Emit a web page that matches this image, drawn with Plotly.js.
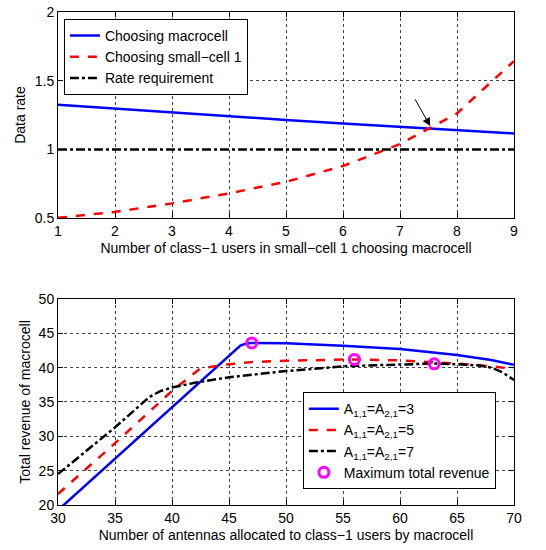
<!DOCTYPE html>
<html><head><meta charset="utf-8">
<script src="https://cdn.plot.ly/plotly-3.0.1.min.js"></script>
<style>body{margin:0;background:#fff}#c{width:546px;height:550px}</style>
</head><body><div id="c"></div>
<script>
// Top chart data
const users = [1, 2, 3, 4, 5, 6, 7, 8, 9];
const rateMacro = [1.325, 1.296, 1.268, 1.241, 1.214, 1.188, 1.163, 1.139, 1.116];
const rateSmall = [0.502, 0.545, 0.607, 0.680, 0.764, 0.879, 1.039, 1.262, 1.643];
const rateReq = [1, 1, 1, 1, 1, 1, 1, 1, 1];

// Bottom chart data
const antA3 = [30, 35, 40, 45, 46, 46.5, 47, 50, 55, 60, 65, 68, 70];
const revA3 = [19.25, 26.75, 34.25, 41.75, 43.2, 43.5, 43.6, 43.55, 43.2, 42.7, 41.85, 41.1, 40.4];
const antA5 = [30, 35, 40, 42.5, 45, 47, 50, 55, 56, 60, 63, 65, 68, 70];
const revA5 = [21.6, 29.0, 36.6, 39.9, 40.5, 40.8, 41.0, 41.2, 41.2, 41.05, 40.8, 40.6, 40.2, 39.8];
const antA7 = [30, 35, 38, 39, 40, 42, 45, 50, 55, 60, 63, 65, 67, 68, 69, 70];
const revA7 = [24.5, 31.3, 35.7, 36.6, 37.1, 37.8, 38.6, 39.5, 40.2, 40.5, 40.6, 40.5, 40.3, 40.0, 39.3, 38.2];
const maxAnt = [47, 56, 63];
const maxRev = [43.6, 41.2, 40.55];

const font = {family: 'Liberation Sans, Arial, sans-serif', size: 14, color: '#000'};
const axBase = {
  showline: true, linecolor: '#000', linewidth: 1, mirror: 'ticks',
  ticks: 'inside', ticklen: 5, tickcolor: '#000',
  showgrid: true, gridcolor: '#444', griddash: 'dot', gridwidth: 1,
  zeroline: false, tickfont: font
};

const traces = [
  {x: users, y: rateMacro, mode: 'lines', name: 'Choosing macrocell',
   line: {color: '#0000ff', width: 2.5}, xaxis: 'x', yaxis: 'y', legend: 'legend'},
  {x: users, y: rateSmall, mode: 'lines', name: 'Choosing small−cell 1',
   line: {color: '#ff0000', width: 2.5, dash: 'dash'}, xaxis: 'x', yaxis: 'y', legend: 'legend'},
  {x: users, y: rateReq, mode: 'lines', name: 'Rate requirement',
   line: {color: '#000', width: 2.5, dash: 'dashdot'}, xaxis: 'x', yaxis: 'y', legend: 'legend'},
  {x: antA3, y: revA3, mode: 'lines', name: 'A<sub>1,1</sub>=A<sub>2,1</sub>=3',
   line: {color: '#0000ff', width: 2.5}, xaxis: 'x2', yaxis: 'y2', legend: 'legend2'},
  {x: antA5, y: revA5, mode: 'lines', name: 'A<sub>1,1</sub>=A<sub>2,1</sub>=5',
   line: {color: '#ff0000', width: 2.5, dash: 'dash'}, xaxis: 'x2', yaxis: 'y2', legend: 'legend2'},
  {x: antA7, y: revA7, mode: 'lines', name: 'A<sub>1,1</sub>=A<sub>2,1</sub>=7',
   line: {color: '#000', width: 2.5, dash: 'dashdot'}, xaxis: 'x2', yaxis: 'y2', legend: 'legend2'},
  {x: maxAnt, y: maxRev, mode: 'markers', name: 'Maximum total revenue',
   marker: {symbol: 'circle-open', color: '#ff00ff', size: 10, line: {color: '#ff00ff', width: 3}},
   xaxis: 'x2', yaxis: 'y2', legend: 'legend2'}
];

const layout = {
  width: 546, height: 550,
  margin: {l: 58, r: 32, t: 12, b: 45},
  paper_bgcolor: '#fff', plot_bgcolor: '#fff',
  font: font,
  xaxis: Object.assign({}, axBase, {range: [1, 9], dtick: 1, anchor: 'y',
    title: {text: 'Number of class−1 users in small−cell 1 choosing macrocell', font: font, standoff: 5}}),
  yaxis: Object.assign({}, axBase, {range: [0.5, 2], dtick: 0.5, domain: [0.582, 1], anchor: 'x',
    title: {text: 'Data rate', font: font, standoff: 5}}),
  xaxis2: Object.assign({}, axBase, {range: [30, 70], dtick: 5, anchor: 'y2',
    title: {text: 'Number of antennas allocated to class−1 users by macrocell', font: font, standoff: 5}}),
  yaxis2: Object.assign({}, axBase, {range: [20, 50], dtick: 5, domain: [0, 0.418], anchor: 'x2',
    title: {text: 'Total revenue of macrocell', font: font, standoff: 4}}),
  legend: {x: 0.013, y: 0.986, xanchor: 'left', yanchor: 'top', bgcolor: '#fff',
    bordercolor: '#000', borderwidth: 1, font: font, tracegroupgap: 0},
  legend2: {x: 0.537, y: 0.229, xanchor: 'left', yanchor: 'top', bgcolor: '#fff',
    bordercolor: '#000', borderwidth: 1, font: font, tracegroupgap: 0},
  annotations: [{
    x: 7.53, y: 1.17, ax: 7.25, ay: 1.375, xref: 'x', yref: 'y', axref: 'x', ayref: 'y',
    showarrow: true, arrowhead: 2, arrowsize: 1.6, arrowwidth: 1, arrowcolor: '#000', text: ''
  }],
  showlegend: true
};

Plotly.newPlot('c', traces, layout, {displayModeBar: false, staticPlot: true});
</script>
</body></html>
